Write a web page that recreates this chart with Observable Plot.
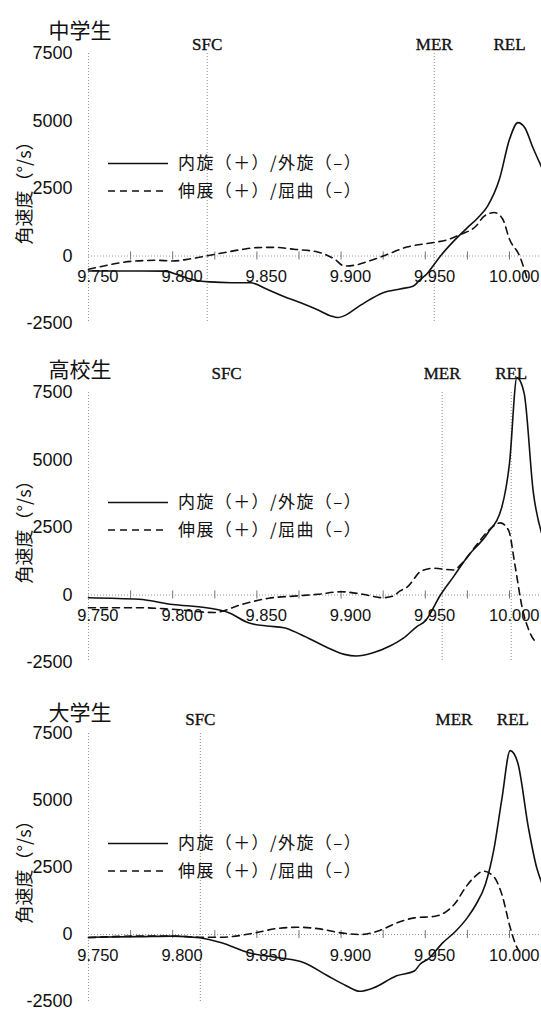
<!DOCTYPE html>
<html><head><meta charset="utf-8">
<script src="https://cdn.jsdelivr.net/npm/d3@7"></script>
<script src="https://cdn.jsdelivr.net/npm/@observablehq/plot@0.6"></script>
<style>
html,body{margin:0;padding:0;background:#fff;}
#charts{width:541px;}
#charts svg{display:block;}
</style></head><body><div id="charts"></div>
<script>
// ---- data ----
const xTickLabels = [9.75, 9.8, 9.85, 9.9, 9.95, 10.0];
const xMinorTicks = [9.775, 9.8, 9.825, 9.85, 9.875, 9.9, 9.925, 9.95, 9.975, 10.0];
const yTickLabels = [-2500, 0, 2500, 5000, 7500];
const yAxisTitle = "角速度（°/s）";
const seriesNames = ["内旋（＋）/外旋（–）", "伸展（＋）/屈曲（–）"];
const groupTitles = ["中学生", "高校生", "大学生"];

// 中学生
const jhsRotation = [[9.750,-556],[9.770,-556],[9.795,-560],[9.803,-690],[9.812,-880],[9.822,-960],[9.835,-990],[9.846,-990],[9.856,-1230],[9.866,-1500],[9.876,-1730],[9.886,-1990],[9.894,-2220],[9.898,-2280],[9.903,-2180],[9.909,-1930],[9.915,-1690],[9.925,-1360],[9.935,-1220],[9.943,-1110],[9.947,-870],[9.951,-660],[9.955,-330],[9.959,0],[9.967,560],[9.975,1050],[9.981,1400],[9.987,1850],[9.994,2840],[10.000,4320],[10.005,4940],[10.009,4760],[10.014,4000],[10.019,3300]];
const jhsExtension = [[9.750,-494],[9.762,-330],[9.775,-200],[9.790,-160],[9.800,-185],[9.810,-110],[9.820,0],[9.831,130],[9.841,240],[9.850,310],[9.860,320],[9.872,250],[9.886,150],[9.896,-110],[9.902,-370],[9.909,-330],[9.915,-220],[9.925,0],[9.939,330],[9.955,500],[9.963,600],[9.971,800],[9.980,1100],[9.985,1480],[9.991,1610],[9.996,1360],[10.000,620],[10.006,0],[10.011,-960]];
const jhsEvents = [{name:"SFC", t:9.8205},{name:"MER", t:9.9553},{name:"REL", t:10.000}];
const jhsEventLines = ["SFC","MER"];

// 高校生
const hsRotation = [[9.750,-100],[9.780,-160],[9.800,-350],[9.820,-470],[9.833,-650],[9.845,-1030],[9.856,-1150],[9.866,-1210],[9.876,-1460],[9.892,-1950],[9.902,-2200],[9.909,-2260],[9.919,-2140],[9.929,-1890],[9.937,-1600],[9.945,-1170],[9.950,-960],[9.959,0],[9.967,700],[9.975,1420],[9.987,2285],[9.9955,3270],[10.000,4880],[10.0044,8050],[10.0087,7470],[10.0142,3770],[10.019,2300]];
const hsExtension = [[9.750,-470],[9.780,-470],[9.800,-530],[9.8246,-650],[9.841,-350],[9.857,-120],[9.872,-40],[9.886,25],[9.900,120],[9.913,25],[9.925,-100],[9.931,-40],[9.935,150],[9.9394,300],[9.9476,890],[9.955,990],[9.9667,925],[9.9722,1200],[9.9804,1850],[9.9886,2450],[9.9945,2670],[9.9994,2400],[10.0034,1050],[10.0074,-430],[10.0123,-1420],[10.0162,-1790]];
const hsEvents = [{name:"SFC", t:9.832},{name:"MER", t:9.960},{name:"REL", t:10.001}];
const hsEventLines = ["MER","REL"];

// 大学生
const univRotation = [[9.750,-100],[9.780,-80],[9.800,-60],[9.816,-120],[9.829,-310],[9.845,-680],[9.862,-860],[9.878,-1050],[9.892,-1540],[9.903,-1910],[9.911,-2120],[9.919,-2000],[9.933,-1540],[9.9435,-1360],[9.947,-1100],[9.952,-900],[9.960,-330],[9.968,120],[9.975,630],[9.980,1110],[9.9856,1860],[9.9905,3100],[9.9955,5070],[10.0004,6860],[10.0048,6430],[10.0113,3960],[10.0162,2480],[10.019,1950]];
const univExtension = [[9.750,-120],[9.780,-60],[9.800,-60],[9.816,-100],[9.829,-100],[9.849,60],[9.8615,220],[9.8738,270],[9.8861,220],[9.900,60],[9.911,0],[9.923,150],[9.933,430],[9.9435,620],[9.9558,680],[9.964,930],[9.9688,1250],[9.9722,1600],[9.9786,2110],[9.9846,2360],[9.9905,2170],[9.9955,1490],[10.0004,260],[10.0044,-480],[10.006,-650]];
const univEvents = [{name:"SFC", t:9.8164},{name:"MER", t:9.967},{name:"REL", t:10.002}];
const univEventLines = ["SFC"];

// ---- drawing ----
const INK = "#111";
const SANS = "'Liberation Sans', 'Noto Sans CJK JP', sans-serif";
const CJK = "'Noto Sans CJK JP', sans-serif";

function legendMark(index, scales, values, dimensions) {
  const ml = dimensions && dimensions.marginLeft != null ? dimensions.marginLeft : 88;
  const mt = dimensions && dimensions.marginTop != null ? dimensions.marginTop : 53;
  const g = d3.create("svg:g");
  seriesNames.forEach((name, i) => {
    const y = mt + 110.5 + i * 27.5;
    g.append("line").attr("x1", ml + 20).attr("x2", ml + 80).attr("y1", y).attr("y2", y)
      .attr("stroke", INK).attr("stroke-width", 1.6)
      .attr("stroke-dasharray", i ? "7,5" : null);
    g.append("text").attr("x", ml + 90).attr("y", y).attr("dy", "0.35em")
      .attr("text-anchor", "start").attr("letter-spacing", "1.4px")
      .attr("font-size", 17).attr("font-family", CJK).attr("fill", INK).text(name);
  });
  return g.node();
}

function panel(title, rot, ext, events, lineNames, opt) {
  return Plot.plot({
    width: 541, height: opt.height,
    marginTop: 53, marginBottom: opt.marginBottom, marginLeft: 88, marginRight: 0,
    x: {domain: [9.75, 10.019], axis: null},
    y: {domain: [-2500, 7500], axis: null},
    style: {fontFamily: SANS, background: "#fff", overflow: "visible", color: INK},
    marks: [
      Plot.ruleX([9.75], {x: d => d, stroke: "#999", strokeDasharray: "1,2"}),
      Plot.ruleY([0], {y: d => d, stroke: "#999", strokeDasharray: "1,2"}),
      Plot.ruleX(events.filter(e => lineNames.includes(e.name)), {x: "t", stroke: "#888", strokeDasharray: "1,2"}),
      Plot.ruleX(xMinorTicks, {x: d => d, y1: -150, y2: 150, stroke: "#777"}),
      Plot.text(xTickLabels, {x: d => d, y: 0, text: d => d3.format(".3f")(d), textAnchor: "end", dx: 30, dy: 21, fontSize: 16.5, fill: INK}),
      Plot.text(yTickLabels, {y: d => d, frameAnchor: "left", textAnchor: "end", dx: -16, text: d => String(d), fontSize: 18, fill: INK}),
      Plot.text([yAxisTitle], {text: d => d, frameAnchor: "left", textAnchor: "middle", rotate: -90, dx: -63, fontSize: 18, fontFamily: CJK, fill: INK}),
      Plot.text([title], {text: d => d, frameAnchor: "top-left", textAnchor: "start", dx: -40, dy: opt.titleDy, fontSize: 21, fontFamily: CJK, fill: INK}),
      Plot.text(events, {x: "t", text: "name", frameAnchor: "top", textAnchor: "middle", dy: opt.eventDy, fontFamily: "'Liberation Serif', serif", fontSize: 17, fill: INK, stroke: INK, strokeWidth: 0.35}),
      Plot.line(rot, {x: d => d[0], y: d => d[1], curve: "monotone-x", stroke: INK, strokeWidth: 1.6}),
      Plot.line(ext, {x: d => d[0], y: d => d[1], curve: "monotone-x", stroke: INK, strokeWidth: 1.6, strokeDasharray: "7,5"}),
      legendMark
    ]
  });
}

const root = document.getElementById("charts");
root.append(panel(groupTitles[0], jhsRotation, jhsExtension, jhsEvents, jhsEventLines, {height: 339, marginBottom: 16, titleDy: -30, eventDy: -16}));
root.append(panel(groupTitles[1], hsRotation, hsExtension, hsEvents, hsEventLines, {height: 341, marginBottom: 18, titleDy: -30, eventDy: -26}));
root.append(panel(groupTitles[2], univRotation, univExtension, univEvents, univEventLines, {height: 330, marginBottom: 9, titleDy: -28, eventDy: -21}));
</script>
</body></html>
